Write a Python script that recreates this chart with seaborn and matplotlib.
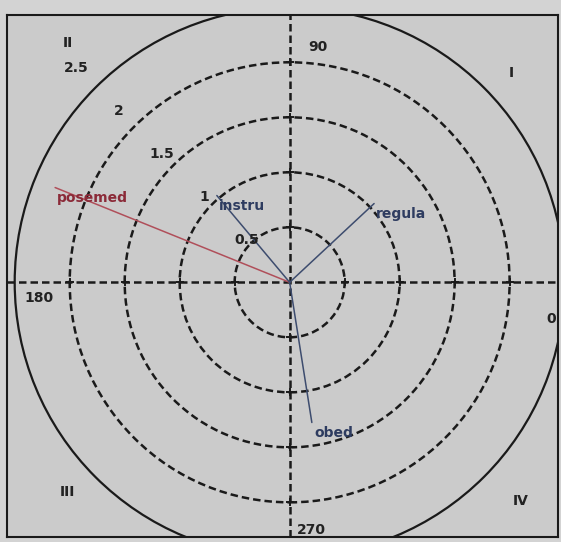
import numpy as np
import pandas as pd
import seaborn as sns
import matplotlib
matplotlib.use('Agg')
import matplotlib.pyplot as plt
from matplotlib.patches import Circle

# Data
variables = ["posemed", "instru", "regula", "obed"]
angles_deg = [158, 130, 43, 279]
lengths = [2.3, 1.03, 1.05, 1.29]
ring_radii = [0.5, 1, 1.5, 2]
outer_radius = 2.5
radial_labels = ["0.5", "1", "1.5", "2", "2.5"]
angle_labels = ["0", "90", "180", "270"]
quadrant_labels = ["I", "II", "III", "IV"]


def main():
    sns.set_style("white")
    plt.rcParams['font.family'] = ['DejaVu Sans']

    fig = plt.figure(figsize=(5.61, 5.42), dpi=100, facecolor='#d3d3d3')
    ax = fig.add_axes([7 / 561, 5 / 542, 551 / 561, 522 / 542])
    ax.set_facecolor('#cbcbcb')
    ax.set_xlim(-2.57, 2.44)
    ax.set_ylim(-2.315, 2.43)

    # Grid rings and axes cross
    dash = (0, (3, 1.6))
    for r in ring_radii:
        ax.add_patch(Circle((0, 0), r, fill=False, ls=dash, lw=1.8, color='#1a1a1a', zorder=1))
    ax.add_patch(Circle((0, 0), outer_radius, fill=False, lw=1.6, color='#1a1a1a', zorder=1))
    ax.axhline(0, ls=dash, lw=1.8, color='#1a1a1a', zorder=1)
    ax.axvline(0, ls=dash, lw=1.8, color='#1a1a1a', zorder=1)

    # small crosses where the rings meet the axes
    rr = np.array(ring_radii, dtype=float)
    cross = pd.DataFrame({
        'x': np.concatenate([rr, -rr, np.zeros_like(rr), np.zeros_like(rr)]),
        'y': np.concatenate([np.zeros_like(rr), np.zeros_like(rr), rr, -rr]),
    })
    sns.scatterplot(data=cross, x='x', y='y', marker='+', s=40, color='#1a1a1a',
                    linewidth=1.4, ax=ax, zorder=2)

    # Vectors
    theta = np.deg2rad(angles_deg)
    ends_x = np.array(lengths) * np.cos(theta)
    ends_y = np.array(lengths) * np.sin(theta)
    df = pd.DataFrame({
        'var': np.repeat(variables, 2),
        'x': np.ravel(np.column_stack([np.zeros(len(variables)), ends_x])),
        'y': np.ravel(np.column_stack([np.zeros(len(variables)), ends_y])),
    })
    colors = {"posemed": '#b04f5a', "instru": '#3d4c6e', "regula": '#3d4c6e', "obed": '#3d4c6e'}
    sns.lineplot(data=df, x='x', y='y', hue='var', units='var', estimator=None, sort=False,
                 palette=colors, lw=1.1, legend=False, ax=ax, zorder=3)
    label_colors = {"posemed": '#8b2a38', "instru": '#2e3c60', "regula": '#2e3c60', "obed": '#2e3c60'}
    for name, x, y in zip(variables, ends_x, ends_y):
        ax.text(x + 0.02, y - 0.03, name, ha='left', va='top', fontsize=10, fontweight='bold',
                color=label_colors[name], zorder=4)

    # Radial labels along 135 degrees
    diag = np.deg2rad(135)
    for r, lab in zip(ring_radii + [outer_radius], radial_labels):
        d = r * 1.1
        ax.text(d * np.cos(diag), d * np.sin(diag), lab, ha='center', va='center',
                fontsize=10, fontweight='bold', color='#222222', zorder=4)

    txt = dict(ha='center', va='center', fontsize=10, fontweight='bold', color='#222222')
    # Angle labels
    ax.text(2.38, -0.33, angle_labels[0], **txt)
    ax.text(0.26, 2.14, angle_labels[1], **txt)
    ax.text(-2.28, -0.14, angle_labels[2], **txt)
    ax.text(0.2, -2.25, angle_labels[3], **txt)

    # Quadrant labels
    ax.text(2.02, 1.90, quadrant_labels[0], **txt)
    ax.text(-2.02, 2.18, quadrant_labels[1], **txt)
    ax.text(-2.02, -1.91, quadrant_labels[2], **txt)
    ax.text(2.1, -1.99, quadrant_labels[3], **txt)

    ax.set_xticks([])
    ax.set_yticks([])
    ax.set_xlabel('')
    ax.set_ylabel('')
    for s in ax.spines.values():
        s.set_visible(True)
        s.set_color('#1a1a1a')
        s.set_linewidth(1.5)

    fig.savefig('out.png', dpi=100, facecolor=fig.get_facecolor())


if __name__ == '__main__':
    main()
